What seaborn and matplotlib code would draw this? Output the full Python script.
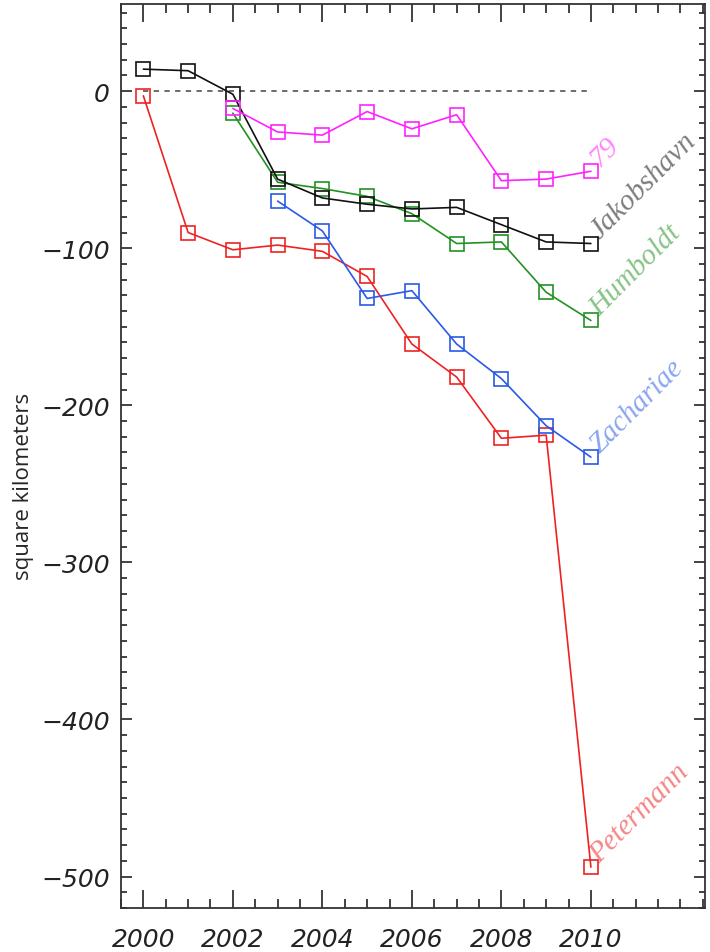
import numpy as np
import pandas as pd
import matplotlib
matplotlib.use("Agg")
import matplotlib.pyplot as plt
import seaborn as sns
from matplotlib.ticker import MultipleLocator

# anos e areas (km2)
anos_jak = [2000, 2001, 2002, 2003, 2004, 2005, 2006, 2007, 2008, 2009, 2010]
jakobshavn = [14, 13, -2, -56, -68, -72, -75, -74, -85, -96, -97]

anos_79 = [2002, 2003, 2004, 2005, 2006, 2007, 2008, 2009, 2010]
glaciar_79 = [-11, -26, -28, -13, -24, -15, -57, -56, -51]

anos_hum = [2002, 2003, 2004, 2005, 2006, 2007, 2008, 2009, 2010]
humboldt = [-14, -58, -62, -67, -78, -97, -96, -128, -146]

anos_zac = [2003, 2004, 2005, 2006, 2007, 2008, 2009, 2010]
zachariae = [-70, -89, -132, -127, -161, -183, -213, -233]

anos_pet = [2000, 2001, 2002, 2003, 2004, 2005, 2006, 2007, 2008, 2009, 2010]
petermann = [-3, -90, -101, -98, -102, -118, -161, -182, -221, -219, -494]

series = [
    ("79", anos_79, glaciar_79, "#ff22ff"),
    ("Jakobshavn", anos_jak, jakobshavn, "#111111"),
    ("Humboldt", anos_hum, humboldt, "#239123"),
    ("Zachariae", anos_zac, zachariae, "#2a5ae6"),
    ("Petermann", anos_pet, petermann, "#ee2222"),
]

sns.set_style("ticks")
plt.rcParams["font.family"] = ["DejaVu Sans"]

fig = plt.figure(figsize=(7.1, 9.53), dpi=100)
ax = fig.add_axes([0.1704, 0.0462, 0.8226, 0.9486])

ax.plot([2000, 2010], [0, 0], linestyle=(0, (3.5, 3.5)), color="#444444", lw=1.1)

# ordem de desenho: vermelho por baixo
for nome, anos, vals, cor in series[::-1]:
    df = pd.DataFrame({"ano": anos, "area": vals})
    sns.lineplot(data=df, x="ano", y="area", color=cor, lw=1.2, marker="s",
                 markersize=10, markerfacecolor="none", markeredgecolor=cor,
                 markeredgewidth=1.2, ax=ax)
    ax.annotate(nome, xy=(2010, vals[-1]), xytext=(6, 3), textcoords="offset points",
                rotation=45, rotation_mode="anchor", ha="left", va="baseline",
                fontsize=21, color=cor, alpha=0.55,
                family="Liberation Serif", style="italic")

ax.set_xlim(1999.5, 2012.55)
ax.set_ylim(-520, 55.5)
ax.xaxis.set_major_locator(MultipleLocator(2))
ax.xaxis.set_minor_locator(MultipleLocator(0.5))
ax.yaxis.set_major_locator(MultipleLocator(100))
ax.yaxis.set_minor_locator(MultipleLocator(10))
ax.set_xticks([2000, 2002, 2004, 2006, 2008, 2010])
ax.set_xticklabels(["2000", "2002", "2004", "2006", "2008", "2010"],
                   fontsize=18, style="italic")
ax.set_yticks([0, -100, -200, -300, -400, -500])
ax.set_yticklabels(["0", "\u2212100", "\u2212200", "\u2212300", "\u2212400", "\u2212500"],
                   fontsize=18, style="italic")

ax.tick_params(axis="x", which="major", direction="in", length=13, width=1.2,
               top=True, pad=14, colors="#222222")
ax.tick_params(axis="x", which="minor", direction="in", length=6.5, width=1.2, top=True,
               colors="#222222")
ax.tick_params(axis="y", which="major", direction="in", length=8, width=1.2,
               right=True, pad=8, colors="#222222")
ax.tick_params(axis="y", which="minor", direction="in", length=4, width=1.2, right=True,
               colors="#222222")
for s in ax.spines.values():
    s.set_visible(True)
    s.set_linewidth(1.3)
    s.set_color("#333333")

ax.set_xlabel("")
ax.set_ylabel("square kilometers", fontsize=16, family="Open Sans")
ax.yaxis.set_label_coords(-0.149, 0.467)

fig.savefig("out.png", dpi=100)
